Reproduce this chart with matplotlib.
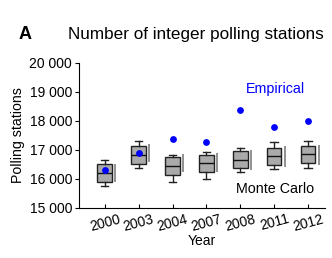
import matplotlib
matplotlib.use("Agg")
from matplotlib import pyplot as plt
from matplotlib.ticker import FuncFormatter

years = ["2000", "2003", "2004", "2007", "2008", "2011", "2012"]
whisker_lo = [15770, 16370, 15890, 16000, 16250, 16330, 16370]
q1 = [15910, 16520, 16140, 16240, 16370, 16480, 16560]
median = [16195, 16830, 16450, 16540, 16655, 16795, 16862]
q3 = [16500, 17140, 16740, 16820, 16965, 17080, 17140]
whisker_hi = [16650, 17310, 16830, 16940, 17070, 17290, 17320]
range_lo = [15910, 16570, 16250, 16250, 16310, 16425, 16480]
range_hi = [16500, 17190, 16850, 16885, 17000, 17140, 17170]
empirical = [16305, 16910, 17370, 17260, 18380, 17780, 18010]

plt.rcParams["font.family"] = ["Liberation Sans", "DejaVu Sans"]
fig = plt.figure(figsize=(3.32, 2.58), dpi=100)
ax = fig.add_axes([0.238, 0.194, 0.741, 0.562])

pos = list(range(1, len(years) + 1))
stats = []
for i in range(len(years)):
	stats.append({"whislo": whisker_lo[i], "q1": q1[i], "med": median[i],
		"q3": q3[i], "whishi": whisker_hi[i], "fliers": []})
ax.bxp(stats, positions=pos, widths=0.43, patch_artist=True, showfliers=False,
	boxprops=dict(facecolor="#aaaaaa", edgecolor="#222222", linewidth=1.0),
	medianprops=dict(color="#111111", linewidth=1.0),
	whiskerprops=dict(color="#222222", linewidth=1.0),
	capprops=dict(color="#222222", linewidth=1.0), capwidths=0.22)
ax.vlines([p + 0.31 for p in pos], range_lo, range_hi, color="#888888", linewidth=1.3)
ax.scatter(pos, empirical, s=24, color="#0000ff", zorder=5, linewidths=0)

ax.set_xlim(0.24, 7.5)
ax.set_ylim(15000, 20000)
ax.set_yticks(range(15000, 20001, 1000))
ax.yaxis.set_major_formatter(FuncFormatter(lambda v, p: "{:,}".format(int(v)).replace(",", " ")))
ax.set_xticks(pos)
ax.set_xticklabels(years, rotation=15, fontsize=10)
ax.tick_params(axis="y", labelsize=10, direction="out", length=3, pad=2)
ax.tick_params(axis="x", direction="in", length=3, pad=3)
for s in ["top", "right"]:
	ax.spines[s].set_visible(False)
ax.set_xlabel("Year", fontsize=10, labelpad=0)
ax.set_ylabel("Polling stations", fontsize=10.2, labelpad=3)

ax.text(0.68, 0.79, "Empirical", color="#0000ff", fontsize=10.3, transform=ax.transAxes)
ax.text(0.64, 0.1, "Monte Carlo", color="black", fontsize=10.3, transform=ax.transAxes)
fig.text(0.055, 0.85, "A", fontsize=13, fontweight="bold")
fig.text(0.205, 0.85, "Number of integer polling stations", fontsize=12.3)

fig.savefig("out.png", dpi=100)
